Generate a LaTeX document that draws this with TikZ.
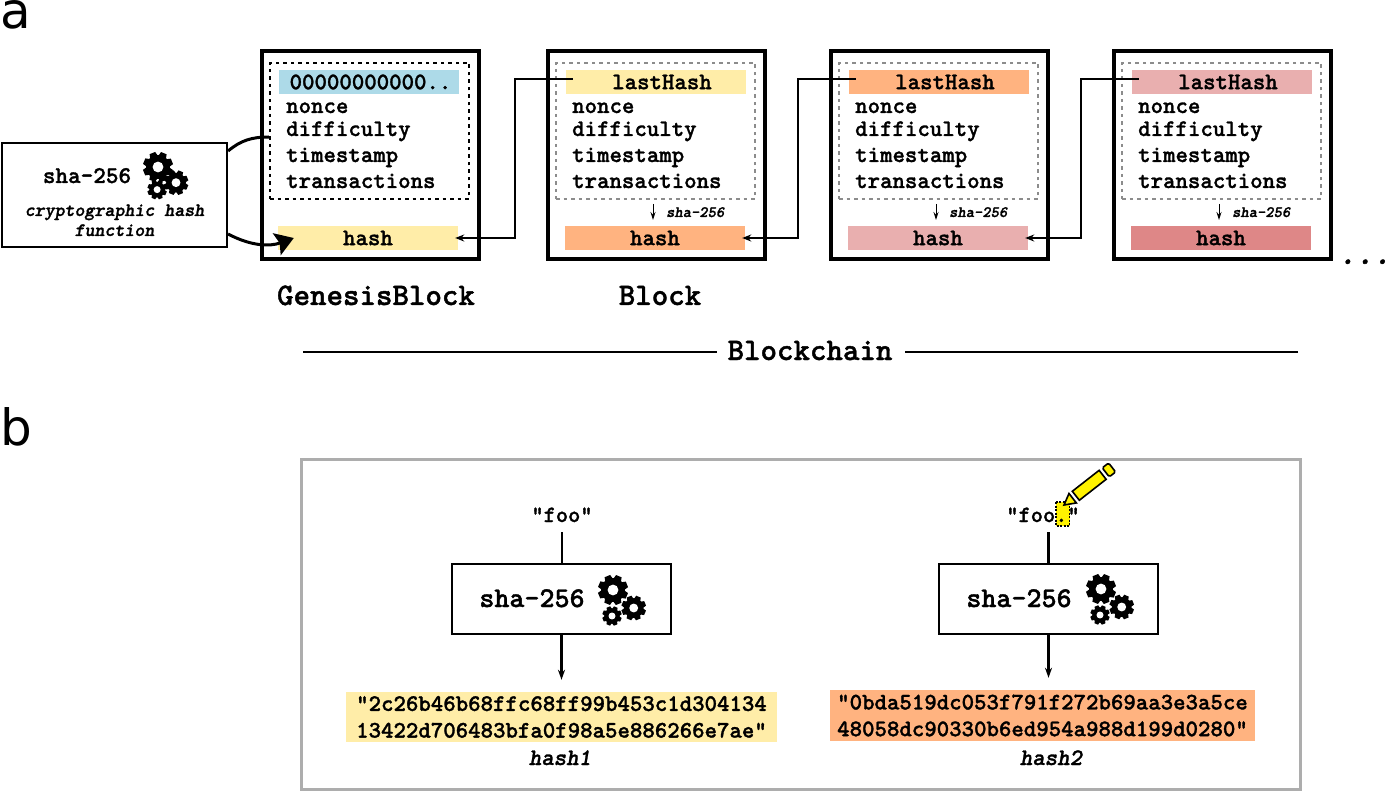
\documentclass[tikz,border=0pt]{standalone}
\usepackage{fontspec}
\setmainfont{DejaVu Sans}
\setmonofont{Latin Modern Mono Light}[BoldFeatures={FakeBold=1.3}, BoldItalicFeatures={FakeBold=1.3}]
\usetikzlibrary{arrows.meta}

\definecolor{barblue}{HTML}{ADDAE8}
\definecolor{baryellow}{HTML}{FFEDA8}
\definecolor{barorange}{HTML}{FFB380}
\definecolor{barpink}{HTML}{E9AFAF}
\definecolor{barrose}{HTML}{DE8787}
\definecolor{penyellow}{HTML}{FFF200}

\newcommand{\monosize}[1]{\fontsize{#1}{#1}\selectfont\ttfamily\bfseries}

\tikzset{
  blockframe/.style={draw, line width=4, minimum width=217, minimum height=208, inner sep=0},
  fieldframe/.style={draw, line width=2, dash pattern=on 3.5 off 4, minimum width=199, minimum height=136, inner sep=0},
  greyframe/.style={fieldframe, draw=gray!90, line width=1.6},
  fieldbar/.style={fill=#1, minimum width=180, minimum height=24, inner sep=0, font=\monosize{23.7}},
  fieldtext/.style={anchor=base west, inner sep=0, font=\monosize{23.7}},
  shalabel/.style={anchor=base west, inner sep=0, font=\monosize{15.8}\itshape},
  link/.style={line width=2.2, -{Stealth[length=9, width=7]}},
  thinlink/.style={line width=1, -{Stealth[length=8, width=5]}},
  bigcurve/.style={line width=3},
  shabox/.style={draw, line width=2.2, fill=white, minimum width=219, minimum height=70, inner sep=0},
  hashresult/.style={fill=#1, inner sep=0, align=center, font=\monosize{23.7}},
  pics/gearwheel/.style={code={
    \fill (0,0) circle (0.8*#1);
    \foreach \tooth in {0,45,...,315}
      \fill[rotate=\tooth+22] (0.7*#1,-0.27*#1) -- (#1,-0.2*#1) -- (#1,0.2*#1) -- (0.7*#1,0.27*#1) -- cycle;
    \fill[white] (0,0) circle (0.36*#1);
  }},
  pics/gearset/.style={code={
    \pic at (0,0) {gearwheel=15};
    \pic at (20.7,18) {gearwheel=12.3};
    \pic at (-1,26) {gearwheel=9.7};
  }}
}

\begin{document}
\begin{tikzpicture}[x=1pt, y=-1pt]
\useasboundingbox (0,0) rectangle (1391,791);

\node[inner sep=0, anchor=base west, font=\fontsize{50}{50}\selectfont] (panela) at (0,29) {a};
\node[inner sep=0, anchor=base west, font=\fontsize{50}{50}\selectfont] (panelb) at (0,445) {b};

% hash function box
\node[draw, line width=2.2, minimum width=225, minimum height=104, inner sep=0] (shafunc) at (114.5,195) {};
\node[inner sep=0, anchor=base, font=\monosize{24}] (shafuncname) at (87,183) {sha-256};
\node[inner sep=0, anchor=base, font=\monosize{19}\itshape] (shafuncdesc) at (114.5,216) {cryptographic hash};
\node[inner sep=0, anchor=base, font=\monosize{19}\itshape] (shafuncdesctwo) at (114.5,236) {function};
\pic[scale=.87] at (158,167) {gearset};

% genesis block
\node[blockframe] (block0) at (370,155.5) {};
\node[fieldframe] (fields0) at (369.5,131) {};
\node[fieldbar=barblue] (last0) at (369,82) {\hspace*{3pt}00000000000..};
\node[fieldtext] (nonce0) at (286,113) {nonce};
\node[fieldtext] (difficulty0) at (286,136) {difficulty};
\node[fieldtext] (timestamp0) at (286,162) {timestamp};
\node[fieldtext] (transactions0) at (286,188) {transactions};
\node[fieldbar=baryellow] (hash0) at (368,238) {hash};
\node[inner sep=0, anchor=base, font=\monosize{31.4}] (genesisname) at (376,305) {GenesisBlock};

% other blocks
\foreach \bx/\id/\lastcol/\hashcol in {547/1/baryellow/barorange, 830/2/barorange/barpink, 1113/3/barpink/barrose}{
  \begin{scope}[xshift=\bx]
    \node[blockframe] (block\id) at (109,155.5) {};
    \node[greyframe] (fields\id) at (108.5,131) {};
    \node[fieldbar=\lastcol] (last\id) at (109,82) {\hspace*{12pt}lastHash};
    \node[fieldtext] (nonce\id) at (25,113) {nonce};
    \node[fieldtext] (difficulty\id) at (25,136) {difficulty};
    \node[fieldtext] (timestamp\id) at (25,162) {timestamp};
    \node[fieldtext] (transactions\id) at (25,188) {transactions};
    \node[fieldbar=\hashcol] (hash\id) at (108,238) {hash};
    \coordinate (shatop\id) at (106,204);
    \coordinate (shabot\id) at (106,220);
    \node[shalabel] (shaname\id) at (119,217) {sha-256};
    \draw[thinlink] (shatop\id) -- (shabot\id);
  \end{scope}
}
\node[inner sep=0, anchor=base, font=\monosize{31.4}] (blockname) at (660,305) {Block};
\node[inner sep=0, anchor=base east, font=\monosize{33}\itshape] (moredots) at (1391,264) {...};

\foreach \prev/\id in {0/1, 1/2, 2/3}
  \draw[link] ([xshift=7,yshift=3]last\id.west) -- ++(-58,0) |- ([xshift=-3]hash\prev.east);

\draw[bigcurve] ([yshift=44]shafunc.east) to[out=40, in=180] ([yshift=-6]fields0.west);
\draw[bigcurve, -{Stealth[length=18, width=23, inset=3]}] ([yshift=-39]shafunc.east) to[out=-28, in=200] ([xshift=16]hash0.west);

% chain label
\node[inner sep=0, anchor=base, font=\monosize{31.4}] (chainname) at (810,360) {Blockchain};
\coordinate (chainleft) at (303,352);
\coordinate (chainright) at (1298,352);
\draw[line width=2] (chainleft) -- ([xshift=-10]chainname.west |- chainleft);
\draw[line width=2] (chainright) -- ([xshift=12]chainname.east |- chainright);

% panel b
\node[draw=black!32, line width=3, minimum width=999, minimum height=330, inner sep=0] (frameb) at (800.5,624) {};

\node[inner sep=0, anchor=base, font=\monosize{23.3}] (foo1) at (562,522) {"foo"};
\node[shabox, draw] (shacall1) at (561.5,599) {};
\node[inner sep=0, anchor=base, font=\monosize{28.6}] (shacallname1) at (532,607) {sha-256};
\pic at (613,590) {gearset};
\node[hashresult=baryellow, minimum width=431, minimum height=50] (result1) at (561.5,717) {"2c26b46b68ffc68ff99b453c1d304134\\[3]13422d706483bfa0f98a5e886266e7ae"};
\node[inner sep=0, anchor=base, font=\monosize{23.7}\itshape] (hashname1) at (560,765) {hash1};
\coordinate (footail1) at (562,532);
\draw[line width=2.4] (footail1) -- (shacall1.north -| footail1);
\draw[line width=2.4, -{Stealth[length=10, width=7]}, shorten >=12] (shacall1.south) -- (shacall1.south |- result1.north);

\filldraw[fill=penyellow, line width=1.2, dash pattern=on 2 off 1.5] (1056,502) rectangle (1069.5,526);
\node[inner sep=0, anchor=base, font=\monosize{23.3}] (foo2) at (1043,522) {"foo."};
\node[shabox, draw] (shacall2) at (1048.5,599) {};
\node[inner sep=0, anchor=base, font=\monosize{28.6}] (shacallname2) at (1019,607) {sha-256};
\pic at (1101,589) {gearset};
\node[hashresult=barorange, minimum width=425, minimum height=51] (result2) at (1042.5,715.5) {"0bda519dc053f791f272b69aa3e3a5ce\\[3]48058dc90330b6ed954a988d199d0280"};
\node[inner sep=0, anchor=base, font=\monosize{23.7}\itshape] (hashname2) at (1051,765) {hash2};
\coordinate (footail2) at (1048.5,532);
\draw[line width=2.4] (footail2) -- (shacall2.north);
\draw[line width=2.4, -{Stealth[length=10, width=7]}, shorten >=12] (shacall2.south) -- (shacall2.south |- result2.north);

% pencil
\begin{scope}[shift={(1064,505)}, rotate=38, line width=1.6, fill=penyellow]
  \filldraw (0,0) -- (11,-6) -- (11,6) -- cycle;
  \filldraw (15,-5.7) rectangle (49,5.7);
  \filldraw[rounded corners=1.5] (53,-5.7) rectangle (61,5.7);
\end{scope}
\end{tikzpicture}
\end{document}
